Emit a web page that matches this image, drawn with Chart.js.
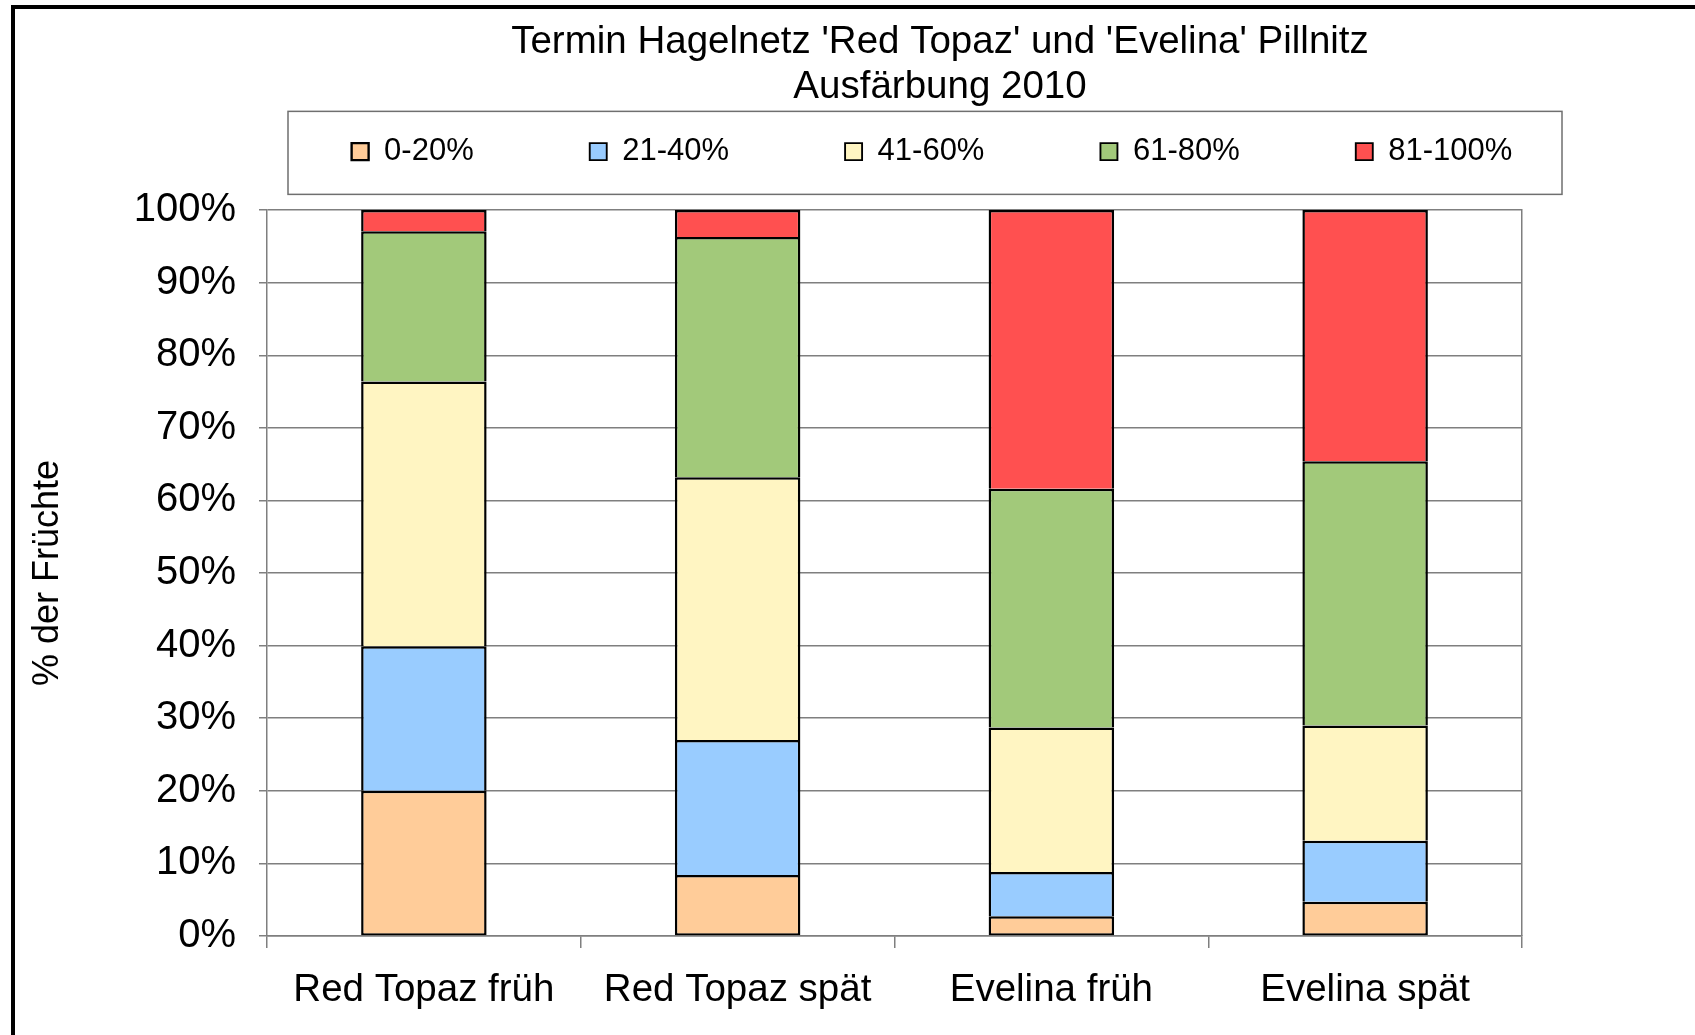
<!DOCTYPE html>
<html>
<head>
<meta charset="utf-8">
<script src="https://cdn.jsdelivr.net/npm/chart.js@4/dist/chart.umd.min.js"></script>
<style>
  html, body { margin: 0; padding: 0; overflow: hidden; background: #fff; width: 1695px; height: 1035px; }
  #frame { position: absolute; left: 11px; top: 5px; width: 2000px; height: 1200px; border: 4px solid #000; box-sizing: border-box; }
  #c { position: absolute; left: 0; top: 0; }
</style>
</head>
<body>
<div id="frame"></div>
<canvas id="c" width="1880" height="1035"></canvas>
<script>
// ---- data ----
const titleLines = ["Termin Hagelnetz 'Red Topaz' und 'Evelina' Pillnitz", "Ausfärbung 2010"];
const categories = ['Red Topaz früh', 'Red Topaz spät', 'Evelina früh', 'Evelina spät'];
const seriesLabels = ['0-20%', '21-40%', '41-60%', '61-80%', '81-100%'];
const share0to20 = [20.0, 8.4, 2.7, 4.7];
const share21to40 = [19.9, 18.6, 6.1, 8.4];
const share41to60 = [36.5, 36.2, 19.9, 15.9];
const share61to80 = [20.7, 33.1, 32.9, 36.4];
const share81to100 = [2.9, 3.7, 38.4, 34.6];
const yAxisTitle = '% der Früchte';
const yMin = 0, yMax = 100, yStep = 10;

// ---- styles ----
const seriesColors = ['#FFCC99', '#99CCFF', '#FFF5C2', '#A2C97A', '#FF5050'];
const seriesValues = [share0to20, share21to40, share41to60, share61to80, share81to100];
const FONT = "'Liberation Sans', Arial, Helvetica, sans-serif";
const GRID = '#7f7f7f';

// legend frame geometry (layout only)
const LEGEND_BLOCK_H = 99.5;
const LEGEND_ITEM_TOP = 25.5;
const LEGEND_DX = -8;
const FRAME_LEFT = 288, FRAME_W = 1274, FRAME_H = 83;

const legendFrame = {
  id: 'legendFrame',
  beforeInit(chart) {
    const lg = chart.legend;
    const fit0 = lg.fit;
    lg.fit = function () { fit0.call(this); this.height = LEGEND_BLOCK_H; };
    const draw0 = lg.draw;
    lg.draw = function (area) {
      const ctx = this.ctx;
      ctx.save();
      ctx.strokeStyle = '#6f6f6f';
      ctx.lineWidth = 1.5;
      ctx.strokeRect(FRAME_LEFT, this.top + 0.75, FRAME_W, FRAME_H);
      ctx.restore();
      const t = this.top, l = this.left, r = this.right;
      const pad = this.options.labels.padding;
      this.top = t + LEGEND_ITEM_TOP - pad;
      this.left = l + LEGEND_DX; this.right = r + LEGEND_DX;
      draw0.call(this, area);
      this.top = t; this.left = l; this.right = r;
    };
  }
};

Chart.defaults.color = '#000';
Chart.defaults.font.family = FONT;

const datasets = seriesLabels.map((lab, i) => ({
  label: lab,
  data: seriesValues[i],
  backgroundColor: seriesColors[i],
  borderColor: '#000',
  borderWidth: { top: 2.5, left: 2.5, right: 2.5, bottom: i === 0 ? 2 : 0 },
  borderSkipped: false,
  categoryPercentage: 1.0,
  barPercentage: 0.40
}));

new Chart(document.getElementById('c'), {
  type: 'bar',
  data: { labels: categories, datasets },
  plugins: [legendFrame],
  options: {
    responsive: false,
    animation: false,
    devicePixelRatio: 1,
    layout: { padding: { left: 0, right: 0, top: 0, bottom: 2.3 } },
    plugins: {
      tooltip: { enabled: false },
      title: {
        display: true,
        text: titleLines,
        color: '#000',
        font: { size: 38.5, weight: 'normal', lineHeight: 1.16 },
        padding: { top: 20, bottom: 1.3 }
      },
      legend: {
        display: true,
        position: 'top',
        labels: {
          font: { size: 31 },
          color: '#000',
          boxWidth: 17,
          boxHeight: 17,
          padding: 116
        }
      }
    },
    scales: {
      x: {
        stacked: true,
        offset: true,
        grid: { display: true, drawOnChartArea: false, drawTicks: true, tickLength: 12, offset: true, color: GRID, lineWidth: 1.5 },
        border: { display: true, color: GRID, width: 1.5 },
        ticks: { font: { size: 38.5 }, color: '#000', padding: 19.3, maxRotation: 0 }
      },
      y: {
        stacked: true,
        min: yMin, max: yMax,
        position: 'left',
        afterFit(s) { s.width = 267; },
        grid: { color: GRID, lineWidth: 1.5, tickLength: 8, drawTicks: true },
        border: { display: true, color: GRID, width: 1.5 },
        ticks: { stepSize: yStep, font: { size: 40 }, color: '#000', padding: 23, callback: v => v + '%' },
        title: { display: true, text: yAxisTitle, font: { size: 36 }, color: '#000', padding: { top: 26, bottom: 0 } }
      },
      y2: {
        position: 'right',
        display: true,
        afterFit(s) { s.width = 358; },
        grid: { display: false, drawOnChartArea: false, drawTicks: false },
        border: { display: true, color: GRID, width: 1.5 },
        ticks: { display: false }
      }
    }
  }
});
</script>
</body>
</html>
